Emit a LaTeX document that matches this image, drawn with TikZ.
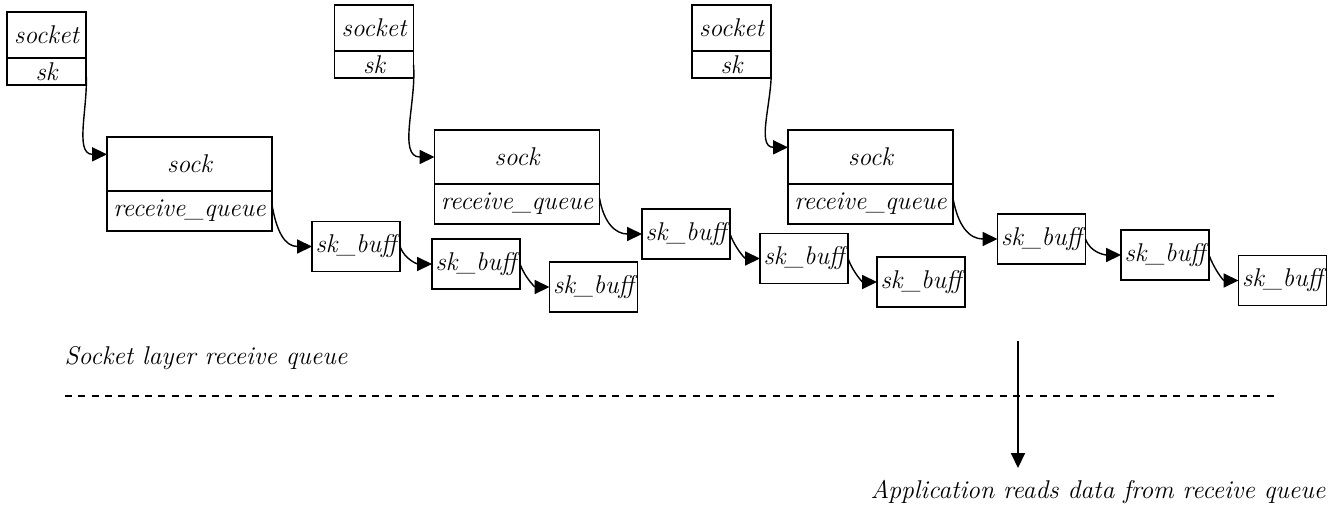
\documentclass[tikz,border=0pt]{standalone}
\usepackage{fontspec}
\usetikzlibrary{arrows.meta}
\tikzstyle{field} = [rectangle, draw, line width=1pt, inner sep=1pt, outer sep=0pt, font=\fontsize{14.6}{18}\selectfont\itshape]
\tikzstyle{socketbox} = [field, minimum width=1.58cm, minimum height=0.92cm]
\tikzstyle{skbox} = [field, minimum width=1.58cm, minimum height=0.54cm]
\tikzstyle{sockbox} = [field, minimum width=3.3cm, minimum height=1.08cm]
\tikzstyle{queuebox} = [field, minimum width=3.3cm, minimum height=0.8cm]
\tikzstyle{buff} = [field, minimum width=1.76cm, minimum height=1cm]
\tikzstyle{textlabel} = [font=\fontsize{14.6}{18}\selectfont\itshape, inner sep=0pt]
\tikzstyle{arrow} = [draw, ->, line width=0.8pt]
\tikzstyle{link} = [arrow, out=-70, in=180]

\begin{document}
\begin{tikzpicture}[x=0.02cm, y=-0.02cm, >={Triangle[length=8.5pt, width=8pt]}]
\useasboundingbox (0,0) rectangle (1333,514);

%% first socket
\node[socketbox] at (46.5, 35) (socket) {socket};
\node[skbox] at (46.5, 71.5) (sk) {sk};
\node[sockbox] at (189.5, 164) (sock) {sock};
\node[queuebox] at (189.5, 211) (queue) {receive\_queue};
\node[buff] at (356, 246.5) (skbA) {sk\_buff};
\node[buff] at (476, 264) (skbB) {sk\_buff};
\node[buff] at (593.5, 287) (skbC) {sk\_buff};

\path [arrow, out=-85, in=180] (sk.east) to ([yshift=5.5pt]sock.west);
\path [link, out=-80, looseness=1.2] ([yshift=3.4pt]queue.east) to (skbA.west);
\path [link] (skbA.east) to (skbB.west);
\path [link] (skbB.east) to (skbC.west);

%% second socket
\node[socketbox] at (374, 28) (midsocket) {socket};
\node[skbox] at (374, 64.5) (midsk) {sk};
\node[sockbox] at (517, 157) (midsock) {sock};
\node[queuebox] at (517, 204) (midqueue) {receive\_queue};
\node[buff] at (686, 234) (midskbA) {sk\_buff};
\node[buff] at (804, 258.5) (midskbB) {sk\_buff};
\node[buff] at (921, 282) (midskbC) {sk\_buff};

\path [arrow, out=-85, in=180] (midsk.east) to (midsock.west);
\path [link, out=-80, looseness=1.2] ([yshift=3.4pt]midqueue.east) to (midskbA.west);
\path [link] (midskbA.east) to (midskbB.west);
\path [link] (midskbB.east) to (midskbC.west);

%% third socket
\node[socketbox] at (731.5, 28) (lastsocket) {socket};
\node[skbox] at (731.5, 64.5) (lastsk) {sk};
\node[sockbox] at (870.5, 157) (lastsock) {sock};
\node[queuebox] at (870.5, 204) (lastqueue) {receive\_queue};
\node[buff] at (1041.5, 239) (lastskbA) {sk\_buff};
\node[buff] at (1165, 255) (lastskbB) {sk\_buff};
\node[buff] at (1282.5, 280.5) (lastskbC) {sk\_buff};

\path [arrow, out=-85, in=180] (lastsk.east) to ([yshift=5.5pt]lastsock.west);
\path [link, out=-80, looseness=1.2] ([yshift=3.4pt]lastqueue.east) to (lastskbA.west);
\path [link] (lastskbA.east) to (lastskbB.west);
\path [link] (lastskbB.east) to (lastskbC.west);

%% layer boundary
\node[textlabel, anchor=base] at (206, 364) (layer) {Socket layer receive queue};
\coordinate (sepleft) at (65, 396);
\coordinate (sepright) at (1276, 396);
\draw[line width=0.8pt, dash pattern=on 4pt off 3.6pt] (sepleft) -- (sepright);

\coordinate (readtop) at (1018, 341);
\coordinate (readtip) at (1018, 468);
\path [arrow] (readtop) to (readtip);
\node[textlabel, anchor=base] at (1098, 498) (app) {Application reads data from receive queue};
\end{tikzpicture}
\end{document}
